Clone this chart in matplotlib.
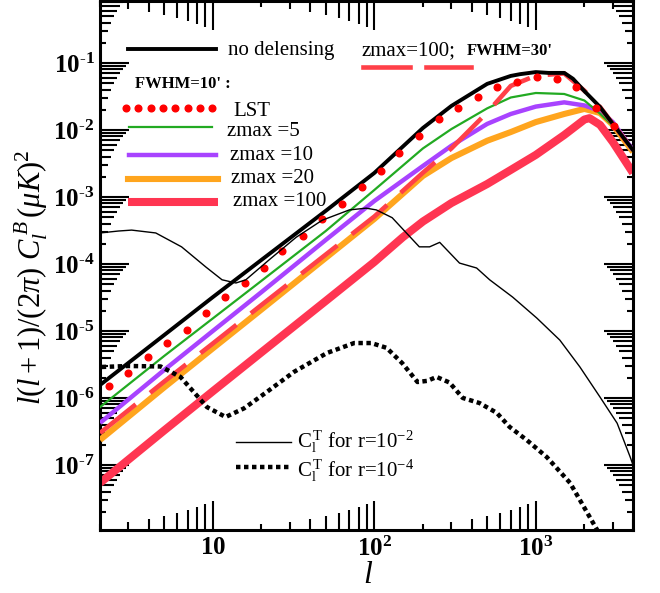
import numpy as np
import matplotlib
matplotlib.use("Agg")
import matplotlib.pyplot as plt
from matplotlib.lines import Line2D
from matplotlib.ticker import LogLocator, FixedLocator, FuncFormatter, NullFormatter

plt.rcParams['font.family'] = ['Liberation Serif', 'DejaVu Serif']
plt.rcParams['mathtext.fontset'] = 'custom'
plt.rcParams['mathtext.rm'] = 'Liberation Serif'
plt.rcParams['mathtext.it'] = 'Liberation Serif:italic'
plt.rcParams['mathtext.bf'] = 'Liberation Serif:bold'

# ---------------- data ----------------
x_ticks = [10, 100, 1000]
y_ticks = [1e-7, 1e-6, 1e-5, 1e-4, 1e-3, 1e-2, 1e-1]

l_nodel = [2, 5, 10, 20, 50, 100, 200, 300, 500, 700, 800, 1000, 1200, 1500, 1700, 2000, 2500, 3000, 4000]
nodel = [1.56e-6, 8.7e-6, 3.2e-5, 1.15e-4, 6.2e-4, 2.28e-3, 1.07e-2, 2.28e-2, 4.87e-2, 6.4e-2, 6.8e-2,
         7.3e-2, 7.1e-2, 7.1e-2, 5.8e-2, 3.8e-2, 2.2e-2, 1.23e-2, 5.0e-3]

l_lst = [2.26, 3.0, 3.94, 5.18, 6.9, 9.05, 11.9, 15.8, 20.8, 26.9, 36.2, 47.6, 63.3, 84, 110, 143, 190,
         250, 328, 437, 573, 762, 1014, 1350, 1770, 2360, 3050]
lst = [1.51e-6, 2.36e-6, 4.1e-6, 6.6e-6, 1.04e-5, 1.86e-5, 3.2e-5, 5.2e-5, 8.7e-5, 1.56e-4, 2.6e-4,
       4.7e-4, 7.9e-4, 1.41e-3, 2.44e-3, 4.5e-3, 8.1e-3, 1.46e-2, 2.13e-2, 3.1e-2, 4.4e-2, 5.2e-2,
       6.2e-2, 5.8e-2, 4.4e-2, 2.13e-2, 1.15e-2]

l_z = [2, 5, 10, 20, 50, 100, 200, 300, 500, 700, 1000, 1500, 2000, 2500, 3000, 4000]
zmax5 = [7.3e-7, 4.24e-6, 1.54e-5, 5.6e-5, 3.1e-4, 1.27e-3, 5.3e-3, 1.03e-2, 2.1e-2, 3.05e-2, 3.56e-2,
         3.44e-2, 2.75e-2, 1.75e-2, 1.15e-2, 5.0e-3]
zmax10 = [4.24e-7, 2.62e-6, 1.0e-5, 3.8e-5, 2.28e-4, 8.7e-4, 2.9e-3, 5.8e-3, 1.23e-2, 1.73e-2, 2.23e-2,
          2.58e-2, 2.32e-2, 1.92e-2, 1.31e-2, 5.0e-3]
zmax20 = [2.36e-7, 1.44e-6, 5.5e-6, 2.09e-5, 1.23e-4, 4.7e-4, 2.06e-3, 3.8e-3, 6.9e-3, 9.3e-3, 1.31e-2,
          1.73e-2, 2.06e-2, 1.79e-2, 1.19e-2, 4.7e-3]
l_z100 = [2, 5, 10, 20, 50, 100, 150, 200, 300, 500, 700, 1000, 1500, 2000, 2150, 2500, 3000, 4000]
zmax100 = [5.4e-8, 3.28e-7, 1.26e-6, 4.8e-6, 2.8e-5, 1.07e-4, 2.5e-4, 4.3e-4, 8.1e-4, 1.56e-3, 2.53e-3,
           4.24e-3, 8.4e-3, 1.43e-2, 1.5e-2, 1.19e-2, 6.6e-3, 2.28e-3]
zmax100_fwhm30 = [3.0e-7, 1.76e-6, 6.5e-6, 2.44e-5, 1.38e-4, 5.1e-4, 2.3e-3, 5.3e-3, 1.82e-2, 4.54e-2,
                  6.46e-2, 6.97e-2, 3.85e-2, 2.2e-2, 1.23e-2, 5.0e-3]

l_t2 = [2.0, 2.6, 3.14, 4.43, 6.4, 9.05, 11.4, 13.9, 16.0, 22.3, 32.8, 47.6, 70, 89, 103, 129, 158, 190,
        220, 254, 337, 430, 518, 719, 1014, 1409, 1876, 2500, 3190, 3840, 4000]
tensor_r2 = [2.9e-4, 3.1e-4, 3.2e-4, 2.9e-4, 1.8e-4, 9.0e-5, 5.8e-5, 5.2e-5, 5.8e-5, 1.15e-4, 2.5e-4,
             4.5e-4, 6.4e-4, 6.8e-4, 6.4e-4, 4.9e-4, 2.9e-4, 1.8e-4, 1.8e-4, 2.1e-4, 1.03e-4, 8.7e-5,
             5.8e-5, 3.2e-5, 1.56e-5, 7.3e-6, 2.9e-6, 1.03e-6, 4.2e-7, 1.32e-7, 1.0e-7]
l_t4 = [2.05, 3.0, 4.75, 6.3, 9.2, 12.0, 15.6, 21.6, 31.8, 51, 75, 95.8, 119, 149, 185, 213, 243, 292,
        353, 448, 573, 688, 880, 1170, 1630, 2400, 3000]
tensor_r4 = [2.9e-6, 3.0e-6, 2.95e-6, 2.06e-6, 7.3e-7, 5.2e-7, 7.0e-7, 1.23e-6, 2.45e-6, 4.7e-6, 6.6e-6,
             6.6e-6, 5.6e-6, 3.3e-6, 1.73e-6, 1.8e-6, 2.06e-6, 1.7e-6, 1.0e-6, 8.4e-7, 6.0e-7, 3.7e-7,
             2.35e-7, 1.31e-7, 5.4e-8, 1.07e-8, 4e-9]

# ---------------- colours / styles ----------------
C_RED = '#FF3552'
C_ORANGE = '#FFA51E'
C_PURPLE = '#A843FF'
C_GREEN = '#22AA22'
C_DASH = '#FF4048'
C_DOT = '#FF0000'

fig = plt.figure(figsize=(6.6, 5.93), dpi=100)
W, H = 660, 593
ax = fig.add_axes([100 / W, (H - 530) / H, 533 / W, 529 / H])

ax.set_xscale('log')
ax.set_yscale('log')
ax.set_xlim(2, 4000)
ax.set_ylim(1.07e-8, 0.84)

ax.plot(l_z100, zmax100, color=C_RED, lw=5.8, solid_capstyle='butt', zorder=2)
ax.plot(l_z, zmax20, color=C_ORANGE, lw=4.4, solid_capstyle='butt', zorder=3)
ax.plot(l_z, zmax10, color=C_PURPLE, lw=3.2, solid_capstyle='butt', zorder=4)
ax.plot(l_z, zmax5, color=C_GREEN, lw=1.6, zorder=5)
ax.plot(l_z, zmax100_fwhm30, color=C_DASH, lw=3.3, dashes=(10, 4), zorder=6)
ax.plot(l_nodel, nodel, color='black', lw=2.8, zorder=7)
ax.plot(l_lst, lst, linestyle='none', marker='o', ms=4.8, color=C_DOT, mec=C_DOT, zorder=8)
ax.plot(l_t2, tensor_r2, color='black', lw=1.0, zorder=9)
ax.plot(l_t4, tensor_r4, color='black', lw=3.2, dashes=(1, 0.8), dash_capstyle='butt', zorder=9)

# ---------------- ticks ----------------
for s in ax.spines.values():
    s.set_linewidth(2.2)
ax.tick_params(which='both', direction='in', top=True, right=True, width=1.5, color='black')
ax.tick_params(which='major', length=21)
ax.tick_params(axis='x', which='major', pad=5)
ax.tick_params(axis='y', which='major', pad=4)

ax.xaxis.set_major_locator(FixedLocator(x_ticks))
ax.yaxis.set_major_locator(FixedLocator(y_ticks))
ax.xaxis.set_minor_locator(LogLocator(base=10, subs=np.arange(2, 10), numticks=100))
ax.yaxis.set_minor_locator(LogLocator(base=10, subs=np.arange(2, 10), numticks=100))
ax.xaxis.set_minor_formatter(NullFormatter())
ax.yaxis.set_minor_formatter(NullFormatter())


def xfmt(v, pos):
    e = int(round(np.log10(v)))
    if e == 1:
        return r'$\mathbf{10}$'
    return r'$\mathbf{10^{%d}}$' % e


def yfmt(v, pos):
    e = int(round(np.log10(v)))
    if e < 0:
        return r'$\mathbf{10^{\text{-}%d}}$' % (-e)
    return r'$\mathbf{10^{%d}}$' % e


ax.xaxis.set_major_formatter(FuncFormatter(xfmt))
ax.yaxis.set_major_formatter(FuncFormatter(yfmt))
ax.tick_params(axis='both', labelsize=18)


def set_minor_lengths(axis):
    locs = axis.get_minorticklocs()
    ticks = axis.get_minor_ticks(len(locs))
    for t, v in zip(ticks, locs):
        m = int(round(v / 10 ** np.floor(np.log10(v) + 1e-9)))
        L = 4 + (m - 2) * 2.1
        t.tick1line.set_markersize(L)
        t.tick2line.set_markersize(L)


set_minor_lengths(ax.xaxis)
set_minor_lengths(ax.yaxis)

# ---------------- axis labels ----------------
fig.text(31 / W, 1 - 277 / H, r'$l(l+1)/(2\pi)\ C_l^{\,B}\,(\mu K)^2$', rotation=90,
         ha='center', va='center', fontsize=22)
fig.text(368 / W, 1 - 583 / H, r'$l$', ha='center', va='baseline', fontsize=23)


# ---------------- legends (hand placed) ----------------
def P(px, py):
    return ((px - 100) / 533, (530 - py) / 529)


def seg(x0, x1, y, **kw):
    a = P(x0, y)
    b = P(x1, y)
    ax.add_line(Line2D([a[0], b[0]], [a[1], b[1]], transform=ax.transAxes, clip_on=False, **kw))


def txt(px, py, s, **kw):
    x, y = P(px, py)
    ax.text(x, y, s, transform=ax.transAxes, ha='left', va='baseline', **kw)


seg(128, 216, 49, color='black', lw=2.8)
txt(228, 55, 'no delensing', fontsize=15)
txt(362, 55, 'zmax=100;', fontsize=15)
txt(467, 55, "FWHM=30'", fontsize=12, fontweight='bold')
seg(363, 410, 67, color=C_DASH, lw=3.3)
seg(426, 471, 67, color=C_DASH, lw=3.3)
txt(135, 88, "FWHM=10' :", fontsize=12, fontweight='bold')
for i in range(8):
    x, y = P(126 + i * 12.3, 108)
    ax.plot([x], [y], 'o', ms=4.8, color=C_DOT, transform=ax.transAxes, clip_on=False)
txt(233, 116, 'LST', fontsize=15)
seg(129, 212, 127, color=C_GREEN, lw=1.6)
txt(227, 136, 'zmax =5', fontsize=15)
seg(129, 216, 155, color=C_PURPLE, lw=3.2)
txt(230, 160, 'zmax =10', fontsize=15)
seg(128, 218, 179, color=C_ORANGE, lw=4.4)
txt(231, 183, 'zmax =20', fontsize=15)
seg(128, 218, 202, color=C_RED, lw=5.8, solid_capstyle='butt')
txt(233, 206, 'zmax =100', fontsize=15)

seg(236, 291, 442, color='black', lw=1.0)
txt(297, 448, r'C$_\mathrm{l}^{\,\mathrm{T}}$ for r=10$^{-2}$', fontsize=15)
seg(236, 291, 467, color='black', lw=3.2, dashes=(1, 0.8), dash_capstyle='butt')
txt(297, 477, r'C$_\mathrm{l}^{\,\mathrm{T}}$ for r=10$^{-4}$', fontsize=15)

fig.savefig('out.png', dpi=100, facecolor='white')
